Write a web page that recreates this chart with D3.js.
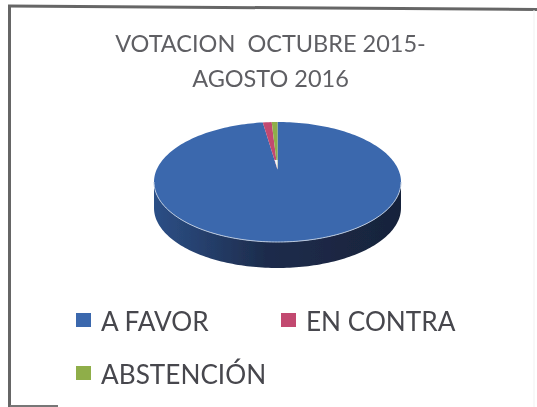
<!DOCTYPE html>
<html>
<head>
<meta charset="utf-8">
<script src="https://cdn.jsdelivr.net/npm/d3@7"></script>
<style>
  html, body { margin: 0; padding: 0; background: #fff; }
  text { font-family: Lato, "Open Sans", sans-serif; }
</style>
</head>
<body>
<div id="chart"></div>
<script>
// chart data
var titleLines = ["VOTACION  OCTUBRE 2015-", "AGOSTO 2016"];
var categories = ["A FAVOR", "EN CONTRA", "ABSTENCIÓN"];
var votes = [98.1, 1.15, 0.75];
var colors = ["#3b68ad", "#c24a70", "#8fae4a"];

var width = 537, height = 407;

var root = d3.select("#chart")
  .append("svg")
  .attr("width", width)
  .attr("height", height)
  .style("display", "block");

// the reference is a soft scan
root.append("defs").append("filter")
  .attr("id", "soft")
  .attr("filterUnits", "userSpaceOnUse")
  .attr("x", 0).attr("y", 0).attr("width", width).attr("height", height)
  .append("feGaussianBlur")
  .attr("stdDeviation", 0.55);

var svg = root.append("g").attr("filter", "url(#soft)");

svg.append("rect")
  .attr("width", width).attr("height", height)
  .attr("fill", "#fff");

// frame: scanned, so the top runs off the page and the right side has faded
var frame = d3.line();
svg.append("path")
  .attr("d", frame([[8, 6], [537, 9.5]]))
  .attr("stroke", "#666").attr("stroke-width", 3).attr("fill", "none");
svg.append("path")
  .attr("d", frame([[9.5, 6], [9.5, 407]]))
  .attr("stroke", "#666").attr("stroke-width", 3).attr("fill", "none");
svg.append("path")
  .attr("d", frame([[10, 406], [58, 406]]))
  .attr("stroke", "#777").attr("stroke-width", 2).attr("fill", "none");
svg.append("path")
  .attr("d", frame([[534, 10], [534, 407]]))
  .attr("stroke", "#f1f1f1").attr("stroke-width", 1).attr("fill", "none");

// title
svg.selectAll("text.title")
  .data(titleLines)
  .enter()
  .append("text")
  .attr("class", "title")
  .attr("x", 270.5)
  .attr("y", (d, i) => 52 + i * 35)
  .attr("text-anchor", "middle")
  .attr("fill", "#5f5f64")
  .style("font-size", "23.5px")
  .style("white-space", "pre")
  .text(d => d);

// pie: the top face is an ellipse seen in perspective, apex sits above its middle
var x = d3.scaleLinear().domain([-1, 1]).range([154, 401]);
var y = d3.scaleLinear().domain([-1, 1]).range([122, 242]);
var apex = [0, -0.21];
var depth = 26;

var arcs = d3.pie().sort(null)(votes);

function edge(a) {
  return [x(Math.sin(a)), y(-Math.cos(a))];
}
function edgePoints(a0, a1) {
  var n = Math.max(2, Math.ceil((a1 - a0) * 40));
  return d3.range(n + 1).map(i => edge(a0 + (a1 - a0) * i / n));
}

var sideGrad = root.select("defs").append("linearGradient")
  .attr("id", "side")
  .attr("x1", 0).attr("x2", 1).attr("y1", 0).attr("y2", 0);
sideGrad.append("stop").attr("offset", "0%").attr("stop-color", "#2c4f86");
sideGrad.append("stop").attr("offset", "45%").attr("stop-color", "#1d2c4c");
sideGrad.append("stop").attr("offset", "100%").attr("stop-color", "#18233b");

var line = d3.line();

// side wall, front half of the ellipse pushed down
var front = edgePoints(Math.PI / 2, Math.PI * 1.5);
var wall = front.concat(front.slice().reverse().map(p => [p[0], p[1] + depth]));
svg.append("path")
  .attr("d", line(wall) + "Z")
  .attr("fill", "url(#side)");

// top face slices
var apexPoint = [x(apex[0]), y(apex[1])];
svg.selectAll("path.slice")
  .data(arcs)
  .enter()
  .append("path")
  .attr("class", "slice")
  .attr("d", d => line([apexPoint].concat(edgePoints(d.startAngle, d.endAngle))) + "Z")
  .attr("fill", (d, i) => colors[i]);

// white tip where the two thin slices meet the apex
var tipStart = edge(arcs[1].startAngle);
var tipEnd = edge(arcs[2].endAngle);
var along = d3.interpolate(apexPoint, tipStart);
var alongEnd = d3.interpolate(apexPoint, tipEnd);
svg.append("path")
  .attr("d", line([apexPoint, along(0.2), alongEnd(0.2)]) + "Z")
  .attr("fill", "#f4f6fa");

// light rim along the front of the top face
svg.append("path")
  .attr("d", line(front))
  .attr("fill", "none")
  .attr("stroke", "#b9c8de")
  .attr("stroke-width", 1);

// legend
var legendX = [76, 281, 76];
var legendY = [320, 320, 373];

var legend = svg.selectAll("g.legend")
  .data(categories)
  .enter()
  .append("g")
  .attr("class", "legend")
  .attr("transform", (d, i) => "translate(" + legendX[i] + "," + legendY[i] + ")");

legend.append("rect")
  .attr("x", 0).attr("y", -7)
  .attr("width", 15).attr("height", 14)
  .attr("fill", (d, i) => colors[i]);

legend.append("text")
  .attr("transform", "translate(25,10.5) scale(0.97,1)")
  .attr("fill", "#47474d")
  .style("font-size", "27px")
  .text(d => d);
</script>
</body>
</html>
